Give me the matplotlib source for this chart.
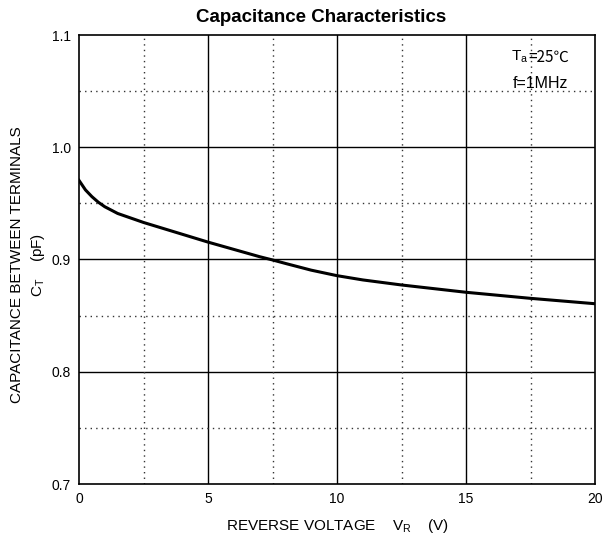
import matplotlib
matplotlib.use("Agg")
import matplotlib.pyplot as plt
import numpy as np

plt.rcParams['font.family'] = ['Liberation Sans', 'DejaVu Sans']

voltage = [0, 0.25, 0.5, 0.75, 1, 1.5, 2, 2.5, 3, 4, 5, 6, 7, 7.5, 8, 9, 10, 11, 12.5, 15, 17.5, 20]
capacitance = [0.9705, 0.962, 0.956, 0.951, 0.947, 0.941, 0.937, 0.933, 0.9295, 0.9225, 0.9155, 0.909, 0.9025,
               0.8996, 0.8965, 0.8905, 0.8856, 0.8818, 0.8773, 0.8708, 0.8654, 0.8606]

x_major = [0, 5, 10, 15, 20]
x_minor = [2.5, 7.5, 12.5, 17.5]
y_major = [0.7, 0.8, 0.9, 1.0, 1.1]
y_minor = [0.75, 0.85, 0.95, 1.05]

fig = plt.figure(figsize=(6.03, 5.38), dpi=100)
ax = fig.add_axes([79/603, 1-484/538, 516/603, 449/538])

ax.set_xlim(0, 20)
ax.set_ylim(0.7, 1.1)
for v in x_major[1:-1]:
    ax.axvline(v, color='black', lw=1.0, zorder=1)
for v in y_major[1:-1]:
    ax.axhline(v, color='black', lw=1.0, zorder=1)
for v in x_minor:
    ax.axvline(v, color='#333333', lw=1.0, ls=(0, (1, 3)), zorder=1)
for v in y_minor:
    ax.axhline(v, color='#333333', lw=1.0, ls=(0, (1, 3)), zorder=1)

ax.plot(voltage, capacitance, color='black', lw=2.2, zorder=3, solid_joinstyle='round')

ax.set_xticks(x_major)
ax.set_xticklabels([str(v) for v in x_major])
ax.set_yticks(y_major)
ax.set_yticklabels([f"{v:.1f}" for v in y_major])
ax.tick_params(length=0, labelsize=10, pad=6)
for s in ax.spines.values():
    s.set_linewidth(1.2)

fig.text(321/603, 1-18/538, "Capacitance Characteristics", fontsize=13.5, fontweight='bold', ha='center', va='center')
ax.set_xlabel(r"REVERSE VOLTAGE    V$_\mathregular{R}$    (V)", fontsize=11, labelpad=8)

fig.text(17/603, 1-265/538, "CAPACITANCE BETWEEN TERMINALS", rotation=90, ha='center', va='center', fontsize=11)
fig.text(38/603, 1-265/538, r"C$_\mathregular{T}$    (pF)", rotation=90, ha='center', va='center', fontsize=11)

t2 = fig.text(569/603, 1-57/538, "=25℃", ha='right', va='center', fontsize=11,
              family=['Noto Sans CJK SC', 'Liberation Sans'])
ax.annotate(r"T$_\mathregular{a}$", xy=(0, 0.5), xycoords=t2, ha='right', va='center', fontsize=11,
            annotation_clip=False)
fig.text(568/603, 1-83/538, "f=1MHz", ha='right', va='center', fontsize=11.5)

fig.savefig("out.png", dpi=100)
